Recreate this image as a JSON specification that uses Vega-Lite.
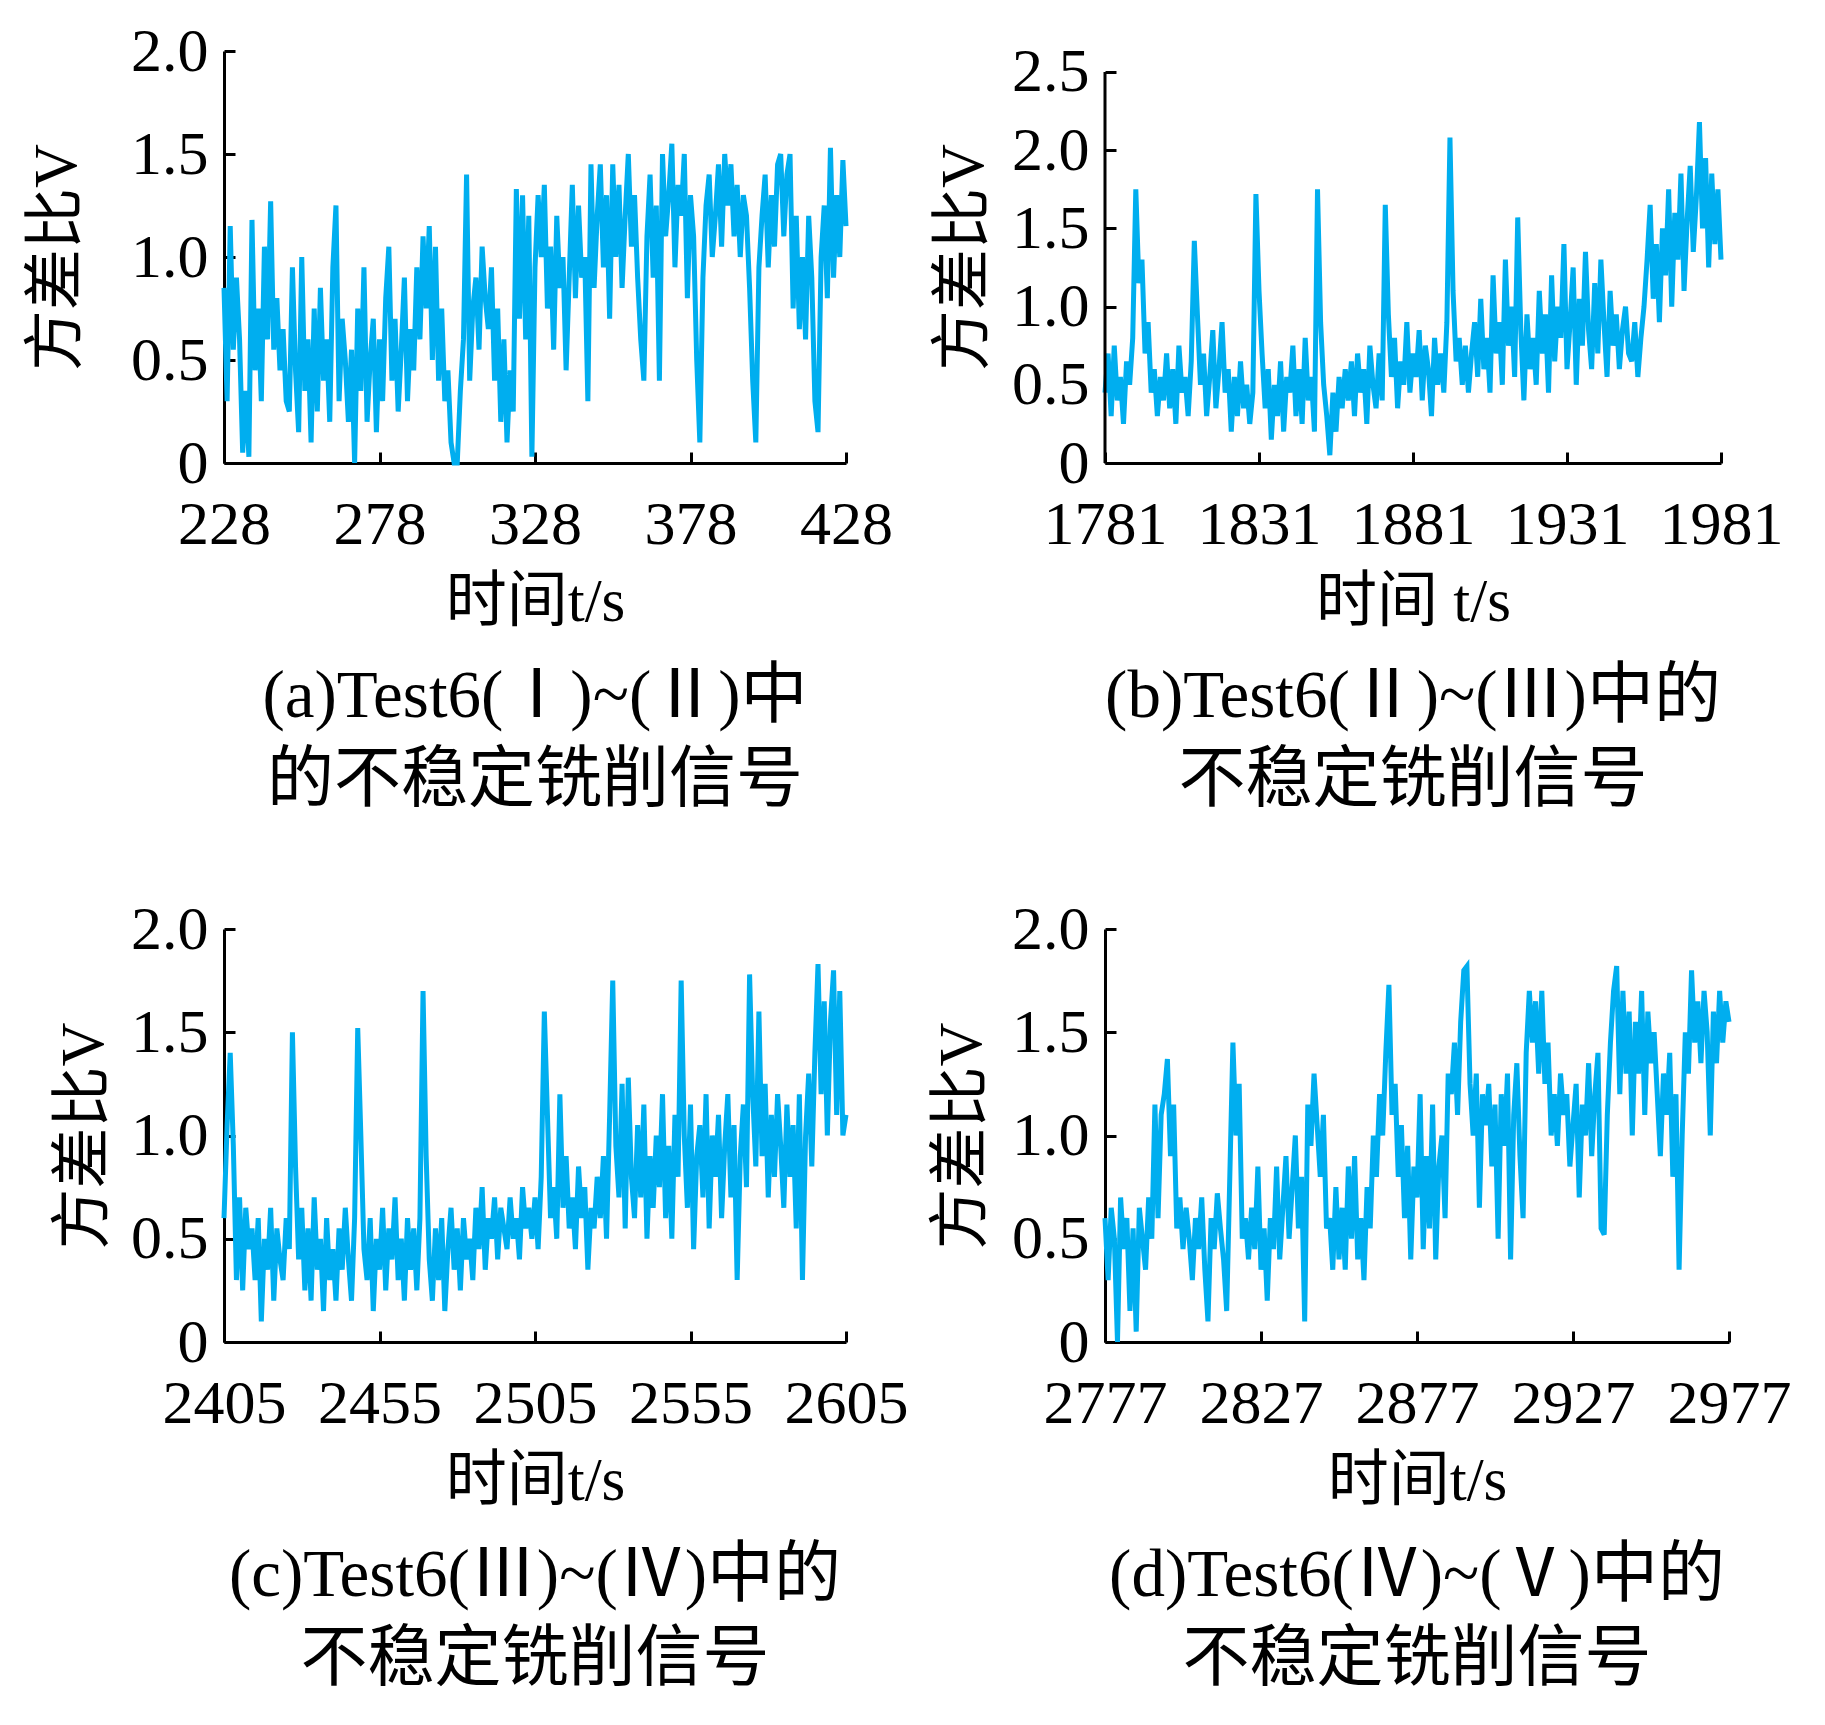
{
  "$schema": "https://vega.github.io/schema/vega-lite/v6.json",
  "background": "white",
  "padding": {"left": 26, "top": 20, "right": 5, "bottom": 5},
  "columns": 2,
  "spacing": {"row": 84, "column": 23},
  "concat": [
    {
      "width": 622,
      "height": 412,
      "title": {"text": ["(a)Test6(Ⅰ)~(Ⅱ)中", "的不稳定铣削信号"], "orient": "bottom"},
      "data": {"values": [
        {"t":228,"v":0.85},{"t":229,"v":0.3},{"t":230,"v":1.15},{"t":231,"v":0.55},{"t":232,"v":0.9},{"t":233,"v":0.6},{"t":234,"v":0.05},{"t":235,"v":0.35},{"t":236,"v":0.03},{"t":237,"v":1.18},
        {"t":238,"v":0.45},{"t":239,"v":0.75},{"t":240,"v":0.3},{"t":241,"v":1.05},{"t":242,"v":0.6},{"t":243,"v":1.27},{"t":244,"v":0.55},{"t":245,"v":0.8},{"t":246,"v":0.45},{"t":247,"v":0.65},
        {"t":248,"v":0.3},{"t":249,"v":0.25},{"t":250,"v":0.95},{"t":251,"v":0.45},{"t":252,"v":0.15},{"t":253,"v":1.0},{"t":254,"v":0.35},{"t":255,"v":0.6},{"t":256,"v":0.1},{"t":257,"v":0.75},
        {"t":258,"v":0.25},{"t":259,"v":0.85},{"t":260,"v":0.4},{"t":261,"v":0.6},{"t":262,"v":0.2},{"t":263,"v":0.95},{"t":264,"v":1.25},{"t":265,"v":0.3},{"t":266,"v":0.7},{"t":267,"v":0.5},
        {"t":268,"v":0.2},{"t":269,"v":0.55},{"t":270,"v":0.0},{"t":271,"v":0.75},{"t":272,"v":0.35},{"t":273,"v":0.95},{"t":274,"v":0.2},{"t":275,"v":0.5},{"t":276,"v":0.7},{"t":277,"v":0.15},
        {"t":278,"v":0.6},{"t":279,"v":0.3},{"t":280,"v":0.8},{"t":281,"v":1.05},{"t":282,"v":0.4},{"t":283,"v":0.7},{"t":284,"v":0.25},{"t":285,"v":0.55},{"t":286,"v":0.9},{"t":287,"v":0.3},
        {"t":288,"v":0.65},{"t":289,"v":0.45},{"t":290,"v":0.95},{"t":291,"v":0.6},{"t":292,"v":1.1},{"t":293,"v":0.75},{"t":294,"v":1.15},{"t":295,"v":0.5},{"t":296,"v":1.05},{"t":297,"v":0.4},
        {"t":298,"v":0.75},{"t":299,"v":0.3},{"t":300,"v":0.45},{"t":301,"v":0.1},{"t":302,"v":0.0},{"t":303,"v":0.0},{"t":304,"v":0.35},{"t":305,"v":0.6},{"t":306,"v":1.4},{"t":307,"v":0.4},
        {"t":308,"v":0.75},{"t":309,"v":0.9},{"t":310,"v":0.55},{"t":311,"v":1.05},{"t":312,"v":0.8},{"t":313,"v":0.65},{"t":314,"v":0.95},{"t":315,"v":0.4},{"t":316,"v":0.75},{"t":317,"v":0.2},
        {"t":318,"v":0.6},{"t":319,"v":0.1},{"t":320,"v":0.45},{"t":321,"v":0.25},{"t":322,"v":1.33},{"t":323,"v":0.7},{"t":324,"v":1.3},{"t":325,"v":0.6},{"t":326,"v":1.2},{"t":327,"v":0.03},
        {"t":328,"v":0.95},{"t":329,"v":1.3},{"t":330,"v":1.0},{"t":331,"v":1.35},{"t":332,"v":0.75},{"t":333,"v":1.05},{"t":334,"v":0.55},{"t":335,"v":1.2},{"t":336,"v":0.85},{"t":337,"v":1.0},
        {"t":338,"v":0.45},{"t":339,"v":0.9},{"t":340,"v":1.35},{"t":341,"v":0.8},{"t":342,"v":1.25},{"t":343,"v":0.9},{"t":344,"v":1.0},{"t":345,"v":0.3},{"t":346,"v":1.45},{"t":347,"v":0.85},
        {"t":348,"v":1.2},{"t":349,"v":1.45},{"t":350,"v":0.95},{"t":351,"v":1.3},{"t":352,"v":0.7},{"t":353,"v":1.45},{"t":354,"v":1.0},{"t":355,"v":1.35},{"t":356,"v":0.85},{"t":357,"v":1.2},
        {"t":358,"v":1.5},{"t":359,"v":1.05},{"t":360,"v":1.3},{"t":361,"v":0.9},{"t":362,"v":0.6},{"t":363,"v":0.4},{"t":364,"v":1.1},{"t":365,"v":1.4},{"t":366,"v":0.9},{"t":367,"v":1.25},
        {"t":368,"v":0.4},{"t":369,"v":1.5},{"t":370,"v":1.1},{"t":371,"v":1.3},{"t":372,"v":1.55},{"t":373,"v":0.95},{"t":374,"v":1.35},{"t":375,"v":1.2},{"t":376,"v":1.5},{"t":377,"v":0.8},
        {"t":378,"v":1.3},{"t":379,"v":1.1},{"t":380,"v":0.5},{"t":381,"v":0.1},{"t":382,"v":0.9},{"t":383,"v":1.25},{"t":384,"v":1.4},{"t":385,"v":1.0},{"t":386,"v":1.2},{"t":387,"v":1.45},
        {"t":388,"v":1.05},{"t":389,"v":1.5},{"t":390,"v":1.25},{"t":391,"v":1.45},{"t":392,"v":1.1},{"t":393,"v":1.35},{"t":394,"v":1.0},{"t":395,"v":1.3},{"t":396,"v":1.2},{"t":397,"v":0.85},
        {"t":398,"v":0.4},{"t":399,"v":0.1},{"t":400,"v":0.95},{"t":401,"v":1.2},{"t":402,"v":1.4},{"t":403,"v":0.95},{"t":404,"v":1.3},{"t":405,"v":1.05},{"t":406,"v":1.45},{"t":407,"v":1.5},
        {"t":408,"v":1.1},{"t":409,"v":1.4},{"t":410,"v":1.5},{"t":411,"v":0.75},{"t":412,"v":1.2},{"t":413,"v":0.65},{"t":414,"v":1.0},{"t":415,"v":0.6},{"t":416,"v":1.2},{"t":417,"v":0.9},
        {"t":418,"v":0.3},{"t":419,"v":0.15},{"t":420,"v":1.0},{"t":421,"v":1.25},{"t":422,"v":0.8},{"t":423,"v":1.53},{"t":424,"v":0.9},{"t":425,"v":1.3},{"t":426,"v":1.0},{"t":427,"v":1.47},
        {"t":428,"v":1.15}
      ]},
      "mark": {"type": "line", "color": "#00AEEF", "strokeWidth": 5},
      "encoding": {
        "x": {"field": "t", "type": "quantitative", "scale": {"domain": [228, 428], "nice": false, "zero": false},
              "axis": {"values": [228, 278, 328, 378, 428], "format": "d", "title": "时间t/s"}},
        "y": {"field": "v", "type": "quantitative", "scale": {"domain": [0, 2], "nice": false},
              "axis": {"values": [0, 0.5, 1, 1.5, 2], "title": "方差比V", "titlePadding": 42}}
      }
    },
    {
      "width": 616,
      "height": 412,
      "title": {"text": ["(b)Test6(Ⅱ)~(Ⅲ)中的", "不稳定铣削信号"], "orient": "bottom"},
      "layer": [
        {
          "data": {"values": [
            {"t":1781,"v":0.45},{"t":1782,"v":0.7},{"t":1783,"v":0.3},{"t":1784,"v":0.75},{"t":1785,"v":0.4},{"t":1786,"v":0.55},{"t":1787,"v":0.25},{"t":1788,"v":0.65},{"t":1789,"v":0.5},{"t":1790,"v":0.8},
            {"t":1791,"v":1.75},{"t":1792,"v":1.15},{"t":1793,"v":1.3},{"t":1794,"v":0.7},{"t":1795,"v":0.9},{"t":1796,"v":0.45},{"t":1797,"v":0.6},{"t":1798,"v":0.3},{"t":1799,"v":0.55},{"t":1800,"v":0.4},
            {"t":1801,"v":0.7},{"t":1802,"v":0.35},{"t":1803,"v":0.6},{"t":1804,"v":0.25},{"t":1805,"v":0.75},{"t":1806,"v":0.45},{"t":1807,"v":0.55},{"t":1808,"v":0.3},{"t":1809,"v":0.65},{"t":1810,"v":1.42},
            {"t":1811,"v":0.95},{"t":1812,"v":0.5},{"t":1813,"v":0.7},{"t":1814,"v":0.3},{"t":1815,"v":0.55},{"t":1816,"v":0.85},{"t":1817,"v":0.35},{"t":1818,"v":0.6},{"t":1819,"v":0.9},{"t":1820,"v":0.45},
            {"t":1821,"v":0.6},{"t":1822,"v":0.2},{"t":1823,"v":0.55},{"t":1824,"v":0.3},{"t":1825,"v":0.65},{"t":1826,"v":0.35},{"t":1827,"v":0.5},{"t":1828,"v":0.25},{"t":1829,"v":0.45},{"t":1830,"v":1.72},
            {"t":1831,"v":1.1},{"t":1832,"v":0.7},{"t":1833,"v":0.35},{"t":1834,"v":0.6},{"t":1835,"v":0.15},{"t":1836,"v":0.5},{"t":1837,"v":0.3},{"t":1838,"v":0.65},{"t":1839,"v":0.2},{"t":1840,"v":0.55},
            {"t":1841,"v":0.45},{"t":1842,"v":0.75},{"t":1843,"v":0.3},{"t":1844,"v":0.6},{"t":1845,"v":0.25},{"t":1846,"v":0.8},{"t":1847,"v":0.4},{"t":1848,"v":0.55},{"t":1849,"v":0.2},{"t":1850,"v":1.75},
            {"t":1851,"v":0.9},{"t":1852,"v":0.5},{"t":1853,"v":0.3},{"t":1854,"v":0.05},{"t":1855,"v":0.45},{"t":1856,"v":0.2},{"t":1857,"v":0.55},{"t":1858,"v":0.35},{"t":1859,"v":0.6},{"t":1860,"v":0.4},
            {"t":1861,"v":0.65},{"t":1862,"v":0.3},{"t":1863,"v":0.7},{"t":1864,"v":0.45},{"t":1865,"v":0.6},{"t":1866,"v":0.25},{"t":1867,"v":0.75},{"t":1868,"v":0.5},{"t":1869,"v":0.35},{"t":1870,"v":0.7},
            {"t":1871,"v":0.4},{"t":1872,"v":1.65},{"t":1873,"v":0.95},{"t":1874,"v":0.55},{"t":1875,"v":0.8},{"t":1876,"v":0.35},{"t":1877,"v":0.65},{"t":1878,"v":0.5},{"t":1879,"v":0.9},{"t":1880,"v":0.45},
            {"t":1881,"v":0.7},{"t":1882,"v":0.55},{"t":1883,"v":0.85},{"t":1884,"v":0.4},{"t":1885,"v":0.75},{"t":1886,"v":0.6},{"t":1887,"v":0.3},{"t":1888,"v":0.8},{"t":1889,"v":0.5},{"t":1890,"v":0.7},
            {"t":1891,"v":0.45},{"t":1892,"v":0.9},{"t":1893,"v":2.08},{"t":1894,"v":1.1},{"t":1895,"v":0.65},{"t":1896,"v":0.8},{"t":1897,"v":0.5},{"t":1898,"v":0.75},{"t":1899,"v":0.45},{"t":1900,"v":0.7},
            {"t":1901,"v":0.9},{"t":1902,"v":0.55},{"t":1903,"v":1.05},{"t":1904,"v":0.6},{"t":1905,"v":0.8},{"t":1906,"v":0.45},{"t":1907,"v":1.2},{"t":1908,"v":0.7},{"t":1909,"v":0.9},{"t":1910,"v":0.5},
            {"t":1911,"v":1.3},{"t":1912,"v":0.75},{"t":1913,"v":1.0},{"t":1914,"v":0.55},{"t":1915,"v":1.57},{"t":1916,"v":0.85},{"t":1917,"v":0.4},{"t":1918,"v":0.95},{"t":1919,"v":0.6},{"t":1920,"v":0.8},
            {"t":1921,"v":0.5},{"t":1922,"v":1.1},{"t":1923,"v":0.7},{"t":1924,"v":0.95},{"t":1925,"v":0.45},{"t":1926,"v":1.2},{"t":1927,"v":0.65},{"t":1928,"v":1.0},{"t":1929,"v":0.8},{"t":1930,"v":1.4},
            {"t":1931,"v":0.6},{"t":1932,"v":0.9},{"t":1933,"v":1.25},{"t":1934,"v":0.5},{"t":1935,"v":1.05},{"t":1936,"v":0.75},{"t":1937,"v":1.35},{"t":1938,"v":0.85},{"t":1939,"v":0.6},{"t":1940,"v":1.15},
            {"t":1941,"v":0.7},{"t":1942,"v":1.3},{"t":1943,"v":0.9},{"t":1944,"v":0.55},{"t":1945,"v":1.1},{"t":1946,"v":0.75},{"t":1947,"v":0.95},{"t":1948,"v":0.6},{"t":1949,"v":0.85},{"t":1950,"v":1.0},
            {"t":1951,"v":0.7},{"t":1952,"v":0.65},{"t":1953,"v":0.9},{"t":1954,"v":0.55},{"t":1955,"v":0.8},{"t":1956,"v":1.0},{"t":1957,"v":1.3},{"t":1958,"v":1.65},{"t":1959,"v":1.05},{"t":1960,"v":1.4},
            {"t":1961,"v":0.9},{"t":1962,"v":1.5},{"t":1963,"v":1.2},{"t":1964,"v":1.75},{"t":1965,"v":1.0},{"t":1966,"v":1.6},{"t":1967,"v":1.3},{"t":1968,"v":1.85},{"t":1969,"v":1.1},{"t":1970,"v":1.55},
            {"t":1971,"v":1.9},{"t":1972,"v":1.35},{"t":1973,"v":1.7},{"t":1974,"v":2.18},{"t":1975,"v":1.5},{"t":1976,"v":1.95},{"t":1977,"v":1.25},{"t":1978,"v":1.85},{"t":1979,"v":1.4},{"t":1980,"v":1.75},
            {"t":1981,"v":1.3}
          ]},
          "mark": {"type": "line", "color": "#00AEEF", "strokeWidth": 5},
          "encoding": {
            "x": {"field": "t", "type": "quantitative", "scale": {"domain": [1781, 1981], "nice": false, "zero": false},
                  "axis": {"values": [1781, 1831, 1881, 1931, 1981], "format": "d", "title": "时间 t/s"}},
            "y": {"field": "v", "type": "quantitative", "scale": {"domain": [0, 2.634], "nice": false},
                  "axis": {"values": [0, 0.5, 1, 1.5, 2, 2.5], "title": "方差比V", "titlePadding": 16, "domain": false}}
          }
        },
        {
          "data": {"values": [{"x0": 1781, "y0": 0, "y1": 2.5}]},
          "mark": {"type": "rule", "color": "black", "strokeWidth": 3},
          "encoding": {
            "x": {"field": "x0", "type": "quantitative"},
            "y": {"field": "y0", "type": "quantitative"},
            "y2": {"field": "y1"}
          }
        }
      ]
    },
    {
      "width": 622,
      "height": 413,
      "title": {"text": ["(c)Test6(Ⅲ)~(Ⅳ)中的", "不稳定铣削信号"], "orient": "bottom"},
      "data": {"values": [
        {"t":2405,"v":0.6},{"t":2406,"v":1.05},{"t":2407,"v":1.4},{"t":2408,"v":0.95},{"t":2409,"v":0.3},{"t":2410,"v":0.7},{"t":2411,"v":0.25},{"t":2412,"v":0.65},{"t":2413,"v":0.45},{"t":2414,"v":0.55},
        {"t":2415,"v":0.3},{"t":2416,"v":0.6},{"t":2417,"v":0.1},{"t":2418,"v":0.5},{"t":2419,"v":0.35},{"t":2420,"v":0.65},{"t":2421,"v":0.2},{"t":2422,"v":0.55},{"t":2423,"v":0.4},{"t":2424,"v":0.3},
        {"t":2425,"v":0.6},{"t":2426,"v":0.45},{"t":2427,"v":1.5},{"t":2428,"v":0.85},{"t":2429,"v":0.4},{"t":2430,"v":0.65},{"t":2431,"v":0.25},{"t":2432,"v":0.55},{"t":2433,"v":0.2},{"t":2434,"v":0.7},
        {"t":2435,"v":0.35},{"t":2436,"v":0.5},{"t":2437,"v":0.15},{"t":2438,"v":0.6},{"t":2439,"v":0.3},{"t":2440,"v":0.45},{"t":2441,"v":0.2},{"t":2442,"v":0.55},{"t":2443,"v":0.35},{"t":2444,"v":0.65},
        {"t":2445,"v":0.4},{"t":2446,"v":0.2},{"t":2447,"v":0.6},{"t":2448,"v":1.52},{"t":2449,"v":1.0},{"t":2450,"v":0.45},{"t":2451,"v":0.3},{"t":2452,"v":0.6},{"t":2453,"v":0.15},{"t":2454,"v":0.5},
        {"t":2455,"v":0.35},{"t":2456,"v":0.65},{"t":2457,"v":0.25},{"t":2458,"v":0.55},{"t":2459,"v":0.4},{"t":2460,"v":0.7},{"t":2461,"v":0.3},{"t":2462,"v":0.5},{"t":2463,"v":0.2},{"t":2464,"v":0.6},
        {"t":2465,"v":0.35},{"t":2466,"v":0.55},{"t":2467,"v":0.25},{"t":2468,"v":0.6},{"t":2469,"v":1.7},{"t":2470,"v":0.9},{"t":2471,"v":0.4},{"t":2472,"v":0.2},{"t":2473,"v":0.55},{"t":2474,"v":0.3},
        {"t":2475,"v":0.6},{"t":2476,"v":0.15},{"t":2477,"v":0.45},{"t":2478,"v":0.65},{"t":2479,"v":0.35},{"t":2480,"v":0.55},{"t":2481,"v":0.25},{"t":2482,"v":0.6},{"t":2483,"v":0.4},{"t":2484,"v":0.5},
        {"t":2485,"v":0.3},{"t":2486,"v":0.65},{"t":2487,"v":0.45},{"t":2488,"v":0.75},{"t":2489,"v":0.35},{"t":2490,"v":0.6},{"t":2491,"v":0.5},{"t":2492,"v":0.7},{"t":2493,"v":0.4},{"t":2494,"v":0.65},
        {"t":2495,"v":0.55},{"t":2496,"v":0.45},{"t":2497,"v":0.7},{"t":2498,"v":0.5},{"t":2499,"v":0.6},{"t":2500,"v":0.4},{"t":2501,"v":0.75},{"t":2502,"v":0.55},{"t":2503,"v":0.65},{"t":2504,"v":0.5},
        {"t":2505,"v":0.7},{"t":2506,"v":0.45},{"t":2507,"v":0.8},{"t":2508,"v":1.6},{"t":2509,"v":1.1},{"t":2510,"v":0.6},{"t":2511,"v":0.75},{"t":2512,"v":0.5},{"t":2513,"v":1.2},{"t":2514,"v":0.65},
        {"t":2515,"v":0.9},{"t":2516,"v":0.55},{"t":2517,"v":0.7},{"t":2518,"v":0.45},{"t":2519,"v":0.85},{"t":2520,"v":0.6},{"t":2521,"v":0.75},{"t":2522,"v":0.35},{"t":2523,"v":0.65},{"t":2524,"v":0.55},
        {"t":2525,"v":0.8},{"t":2526,"v":0.6},{"t":2527,"v":0.9},{"t":2528,"v":0.5},{"t":2529,"v":1.1},{"t":2530,"v":1.75},{"t":2531,"v":0.95},{"t":2532,"v":0.7},{"t":2533,"v":1.25},{"t":2534,"v":0.55},
        {"t":2535,"v":1.28},{"t":2536,"v":0.8},{"t":2537,"v":0.6},{"t":2538,"v":1.05},{"t":2539,"v":0.7},{"t":2540,"v":1.15},{"t":2541,"v":0.5},{"t":2542,"v":0.9},{"t":2543,"v":0.65},{"t":2544,"v":1.0},
        {"t":2545,"v":0.75},{"t":2546,"v":1.2},{"t":2547,"v":0.6},{"t":2548,"v":0.95},{"t":2549,"v":0.5},{"t":2550,"v":1.1},{"t":2551,"v":0.8},{"t":2552,"v":1.75},{"t":2553,"v":1.0},{"t":2554,"v":0.65},
        {"t":2555,"v":1.15},{"t":2556,"v":0.45},{"t":2557,"v":0.9},{"t":2558,"v":1.05},{"t":2559,"v":0.7},{"t":2560,"v":1.2},{"t":2561,"v":0.55},{"t":2562,"v":1.0},{"t":2563,"v":0.8},{"t":2564,"v":1.1},
        {"t":2565,"v":0.6},{"t":2566,"v":0.95},{"t":2567,"v":1.2},{"t":2568,"v":0.7},{"t":2569,"v":1.05},{"t":2570,"v":0.3},{"t":2571,"v":0.9},{"t":2572,"v":1.15},{"t":2573,"v":0.75},{"t":2574,"v":1.78},
        {"t":2575,"v":1.2},{"t":2576,"v":0.85},{"t":2577,"v":1.6},{"t":2578,"v":0.9},{"t":2579,"v":1.25},{"t":2580,"v":0.7},{"t":2581,"v":1.1},{"t":2582,"v":0.8},{"t":2583,"v":1.2},{"t":2584,"v":0.95},
        {"t":2585,"v":0.65},{"t":2586,"v":1.15},{"t":2587,"v":0.8},{"t":2588,"v":1.05},{"t":2589,"v":0.55},{"t":2590,"v":1.2},{"t":2591,"v":0.3},{"t":2592,"v":1.0},{"t":2593,"v":1.3},{"t":2594,"v":0.85},
        {"t":2595,"v":1.4},{"t":2596,"v":1.83},{"t":2597,"v":1.2},{"t":2598,"v":1.65},{"t":2599,"v":1.0},{"t":2600,"v":1.55},{"t":2601,"v":1.8},{"t":2602,"v":1.1},{"t":2603,"v":1.7},{"t":2604,"v":1.0},
        {"t":2605,"v":1.1}
      ]},
      "mark": {"type": "line", "color": "#00AEEF", "strokeWidth": 5},
      "encoding": {
        "x": {"field": "t", "type": "quantitative", "scale": {"domain": [2405, 2605], "nice": false, "zero": false},
              "axis": {"values": [2405, 2455, 2505, 2555, 2605], "format": "d", "title": "时间t/s"}},
        "y": {"field": "v", "type": "quantitative", "scale": {"domain": [0, 2], "nice": false},
              "axis": {"values": [0, 0.5, 1, 1.5, 2], "title": "方差比V", "titlePadding": 15}}
      }
    },
    {
      "width": 624,
      "height": 413,
      "title": {"text": ["(d)Test6(Ⅳ)~(Ⅴ)中的", "不稳定铣削信号"], "orient": "bottom"},
      "data": {"values": [
        {"t":2777,"v":0.6},{"t":2778,"v":0.3},{"t":2779,"v":0.65},{"t":2780,"v":0.5},{"t":2781,"v":0.0},{"t":2782,"v":0.7},{"t":2783,"v":0.45},{"t":2784,"v":0.6},{"t":2785,"v":0.15},{"t":2786,"v":0.55},
        {"t":2787,"v":0.05},{"t":2788,"v":0.65},{"t":2789,"v":0.5},{"t":2790,"v":0.35},{"t":2791,"v":0.7},{"t":2792,"v":0.5},{"t":2793,"v":1.15},{"t":2794,"v":0.6},{"t":2795,"v":1.1},{"t":2796,"v":1.2},
        {"t":2797,"v":1.37},{"t":2798,"v":0.9},{"t":2799,"v":1.15},{"t":2800,"v":0.55},{"t":2801,"v":0.7},{"t":2802,"v":0.45},{"t":2803,"v":0.65},{"t":2804,"v":0.5},{"t":2805,"v":0.3},{"t":2806,"v":0.6},
        {"t":2807,"v":0.45},{"t":2808,"v":0.7},{"t":2809,"v":0.35},{"t":2810,"v":0.1},{"t":2811,"v":0.6},{"t":2812,"v":0.45},{"t":2813,"v":0.72},{"t":2814,"v":0.55},{"t":2815,"v":0.4},{"t":2816,"v":0.15},
        {"t":2817,"v":0.8},{"t":2818,"v":1.45},{"t":2819,"v":1.0},{"t":2820,"v":1.25},{"t":2821,"v":0.5},{"t":2822,"v":0.6},{"t":2823,"v":0.4},{"t":2824,"v":0.65},{"t":2825,"v":0.45},{"t":2826,"v":0.85},
        {"t":2827,"v":0.35},{"t":2828,"v":0.55},{"t":2829,"v":0.2},{"t":2830,"v":0.6},{"t":2831,"v":0.45},{"t":2832,"v":0.85},{"t":2833,"v":0.4},{"t":2834,"v":0.65},{"t":2835,"v":0.9},{"t":2836,"v":0.5},
        {"t":2837,"v":0.75},{"t":2838,"v":1.0},{"t":2839,"v":0.55},{"t":2840,"v":0.8},{"t":2841,"v":0.1},{"t":2842,"v":1.15},{"t":2843,"v":0.95},{"t":2844,"v":1.3},{"t":2845,"v":1.05},{"t":2846,"v":0.8},
        {"t":2847,"v":1.1},{"t":2848,"v":0.55},{"t":2849,"v":0.6},{"t":2850,"v":0.35},{"t":2851,"v":0.75},{"t":2852,"v":0.4},{"t":2853,"v":0.65},{"t":2854,"v":0.35},{"t":2855,"v":0.85},{"t":2856,"v":0.5},
        {"t":2857,"v":0.9},{"t":2858,"v":0.4},{"t":2859,"v":0.6},{"t":2860,"v":0.3},{"t":2861,"v":0.75},{"t":2862,"v":0.55},{"t":2863,"v":1.0},{"t":2864,"v":0.8},{"t":2865,"v":1.2},{"t":2866,"v":1.0},
        {"t":2867,"v":1.4},{"t":2868,"v":1.73},{"t":2869,"v":1.1},{"t":2870,"v":1.25},{"t":2871,"v":0.8},{"t":2872,"v":1.05},{"t":2873,"v":0.6},{"t":2874,"v":0.95},{"t":2875,"v":0.4},{"t":2876,"v":0.85},
        {"t":2877,"v":0.7},{"t":2878,"v":1.2},{"t":2879,"v":0.45},{"t":2880,"v":0.9},{"t":2881,"v":0.55},{"t":2882,"v":1.15},{"t":2883,"v":0.4},{"t":2884,"v":0.85},{"t":2885,"v":1.0},{"t":2886,"v":0.6},
        {"t":2887,"v":1.3},{"t":2888,"v":1.2},{"t":2889,"v":1.45},{"t":2890,"v":1.1},{"t":2891,"v":1.55},{"t":2892,"v":1.8},{"t":2893,"v":1.82},{"t":2894,"v":1.25},{"t":2895,"v":1.0},{"t":2896,"v":1.3},
        {"t":2897,"v":0.65},{"t":2898,"v":1.2},{"t":2899,"v":1.05},{"t":2900,"v":1.25},{"t":2901,"v":0.85},{"t":2902,"v":1.15},{"t":2903,"v":0.5},{"t":2904,"v":1.2},{"t":2905,"v":0.95},{"t":2906,"v":1.3},
        {"t":2907,"v":0.4},{"t":2908,"v":1.1},{"t":2909,"v":1.35},{"t":2910,"v":0.9},{"t":2911,"v":0.6},{"t":2912,"v":1.4},{"t":2913,"v":1.7},{"t":2914,"v":1.45},{"t":2915,"v":1.65},{"t":2916,"v":1.3},
        {"t":2917,"v":1.7},{"t":2918,"v":1.25},{"t":2919,"v":1.45},{"t":2920,"v":1.0},{"t":2921,"v":1.2},{"t":2922,"v":0.95},{"t":2923,"v":1.3},{"t":2924,"v":1.1},{"t":2925,"v":1.2},{"t":2926,"v":0.85},
        {"t":2927,"v":1.05},{"t":2928,"v":1.25},{"t":2929,"v":0.7},{"t":2930,"v":1.15},{"t":2931,"v":1.0},{"t":2932,"v":1.35},{"t":2933,"v":0.9},{"t":2934,"v":1.2},{"t":2935,"v":1.4},{"t":2936,"v":0.55},
        {"t":2937,"v":0.52},{"t":2938,"v":1.1},{"t":2939,"v":1.45},{"t":2940,"v":1.7},{"t":2941,"v":1.82},{"t":2942,"v":1.2},{"t":2943,"v":1.7},{"t":2944,"v":1.3},{"t":2945,"v":1.6},{"t":2946,"v":1.0},
        {"t":2947,"v":1.55},{"t":2948,"v":1.3},{"t":2949,"v":1.7},{"t":2950,"v":1.1},{"t":2951,"v":1.6},{"t":2952,"v":1.35},{"t":2953,"v":1.5},{"t":2954,"v":1.2},{"t":2955,"v":0.9},{"t":2956,"v":1.3},
        {"t":2957,"v":1.1},{"t":2958,"v":1.4},{"t":2959,"v":0.8},{"t":2960,"v":1.2},{"t":2961,"v":0.35},{"t":2962,"v":1.0},{"t":2963,"v":1.5},{"t":2964,"v":1.3},{"t":2965,"v":1.8},{"t":2966,"v":1.45},
        {"t":2967,"v":1.65},{"t":2968,"v":1.35},{"t":2969,"v":1.7},{"t":2970,"v":1.5},{"t":2971,"v":1.0},{"t":2972,"v":1.6},{"t":2973,"v":1.35},{"t":2974,"v":1.7},{"t":2975,"v":1.45},{"t":2976,"v":1.65},
        {"t":2977,"v":1.55}
      ]},
      "mark": {"type": "line", "color": "#00AEEF", "strokeWidth": 5},
      "encoding": {
        "x": {"field": "t", "type": "quantitative", "scale": {"domain": [2777, 2977], "nice": false, "zero": false},
              "axis": {"values": [2777, 2827, 2877, 2927, 2977], "format": "d", "title": "时间t/s"}},
        "y": {"field": "v", "type": "quantitative", "scale": {"domain": [0, 2], "nice": false},
              "axis": {"values": [0, 0.5, 1, 1.5, 2], "title": "方差比V", "titlePadding": 18}}
      }
    }
  ],
  "config": {
    "view": {"stroke": null},
    "font": "Liberation Serif",
    "axis": {
      "grid": false,
      "domainColor": "black",
      "domainWidth": 3,
      "tickColor": "black",
      "tickWidth": 3,
      "tickSize": -11,
      "labelFont": "Liberation Serif",
      "labelFontSize": 62,
      "labelColor": "black",
      "labelFlush": false,
      "labelOverlap": false,
      "titleFont": "Liberation Serif, Noto Sans CJK SC",
      "titleFontSize": 61,
      "titleFontWeight": "normal",
      "titleColor": "black"
    },
    "axisX": {"labelPadding": 42, "titlePadding": 17},
    "axisY": {"labelPadding": 27, "labelExpr": "datum.value == 0 ? '0' : format(datum.value, '.1f')"},
    "title": {
      "font": "Liberation Serif, Noto Sans CJK SC",
      "fontSize": 67,
      "fontWeight": "normal",
      "color": "black",
      "lineHeight": 84,
      "offset": 32
    }
  }
}
